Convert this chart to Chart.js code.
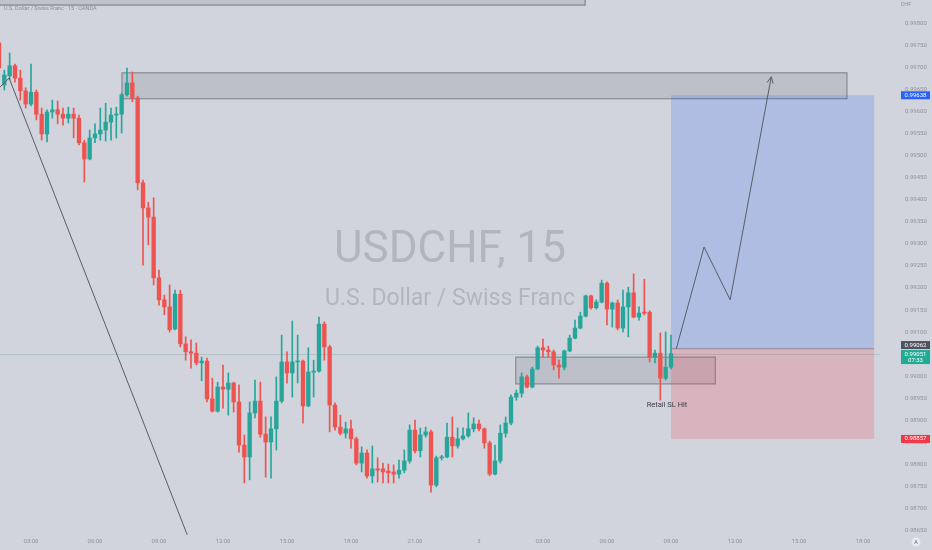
<!DOCTYPE html>
<html><head><meta charset="utf-8">
<script src="https://cdn.jsdelivr.net/npm/chart.js@4.4.0/dist/chart.umd.min.js"></script>
<style>html,body{margin:0;padding:0;background:#d1d4dc;}#wrap{width:932px;height:550px;position:relative;}</style>
</head><body><div id="wrap"><canvas id="c" width="932" height="550"></canvas></div>
<script>
// ---- DATA ----
const firstBar = -6; // bar index of first candle (03:00 day 2 = 0, 15-minute bars)
const opens = [0.99757,0.99661,0.99682,0.99705,0.99677,0.99648,
0.99618,0.99645,0.99595,0.99550,0.99600,0.99605,0.99595,0.99586,0.99595,0.99586,
0.99530,0.99493,0.99541,0.99550,0.99559,0.99577,0.99593,0.99595,0.99639,0.99666,
0.99632,0.99439,0.99382,0.99361,0.99223,0.99173,0.99157,0.99107,0.99186,0.99073,
0.99055,0.99052,0.99030,0.99034,0.98948,0.98920,0.98975,0.98970,0.98984,0.98941,
0.98843,0.98816,0.98916,0.98943,0.98868,0.98850,0.98880,0.98943,0.99032,0.99007,
0.99032,0.99034,0.98932,0.99009,0.99011,0.99118,0.99066,0.98934,0.98884,0.98870,
0.98880,0.98857,0.98802,0.98825,0.98773,0.98789,0.98789,0.98784,0.98782,0.98777,
0.98786,0.98807,0.98877,0.98830,0.98866,0.98873,0.98752,0.98814,0.98816,0.98861,
0.98841,0.98857,0.98864,0.98880,0.98891,0.98880,0.98848,0.98777,0.98807,0.98870,
0.98893,0.98952,0.98961,0.98998,0.98975,0.99016,0.99064,0.99059,0.99055,0.99025,
0.99020,0.99057,0.99086,0.99109,0.99136,0.99182,0.99155,0.99168,0.99211,0.99152,
0.99166,0.99109,0.99157,0.99189,0.99134,0.99145,0.99145,0.99043,0.99052,0.98995,
0.99020];
const highs = [0.99764,0.99695,0.99734,0.99709,0.99695,0.99655,
0.99709,0.99650,0.99609,0.99605,0.99627,0.99625,0.99609,0.99611,0.99609,0.99593,
0.99536,0.99559,0.99573,0.99609,0.99620,0.99609,0.99611,0.99643,0.99700,0.99691,
0.99636,0.99445,0.99395,0.99405,0.99241,0.99184,0.99207,0.99195,0.99195,0.99089,
0.99082,0.99075,0.99043,0.99041,0.98995,0.98986,0.99025,0.99007,0.98986,0.98980,
0.98866,0.98941,0.98991,0.98986,0.98907,0.98907,0.98998,0.99093,0.99055,0.99125,
0.99093,0.99036,0.99064,0.99036,0.99134,0.99123,0.99070,0.98939,0.98911,0.98895,
0.98900,0.98861,0.98839,0.98832,0.98841,0.98814,0.98802,0.98800,0.98798,0.98809,
0.98832,0.98889,0.98900,0.98882,0.98884,0.98877,0.98818,0.98820,0.98893,0.98907,
0.98882,0.98882,0.98916,0.98905,0.98900,0.98882,0.98852,0.98843,0.98889,0.98907,
0.98957,0.98968,0.99007,0.99002,0.99020,0.99068,0.99084,0.99068,0.99059,0.99036,
0.99059,0.99093,0.99127,0.99145,0.99184,0.99184,0.99173,0.99218,0.99214,0.99168,
0.99173,0.99195,0.99202,0.99232,0.99157,0.99220,0.99148,0.99059,0.99098,0.99100,
0.99093];
const lows = [0.99691,0.99650,0.99673,0.99668,0.99627,0.99609,
0.99614,0.99582,0.99536,0.99532,0.99586,0.99573,0.99570,0.99575,0.99541,0.99525,
0.99441,0.99491,0.99530,0.99536,0.99534,0.99536,0.99541,0.99552,0.99636,0.99623,
0.99423,0.99252,0.99298,0.99207,0.99161,0.99139,0.99100,0.99105,0.99066,0.99036,
0.99018,0.99025,0.98989,0.98941,0.98918,0.98918,0.98927,0.98911,0.98918,0.98827,
0.98757,0.98764,0.98905,0.98861,0.98770,0.98768,0.98832,0.98939,0.98984,0.98952,
0.98984,0.98893,0.98930,0.98952,0.99009,0.99036,0.98873,0.98877,0.98866,0.98859,
0.98836,0.98798,0.98782,0.98768,0.98757,0.98759,0.98757,0.98757,0.98757,0.98768,
0.98780,0.98802,0.98825,0.98816,0.98861,0.98736,0.98748,0.98809,0.98814,0.98816,
0.98836,0.98855,0.98861,0.98873,0.98875,0.98836,0.98773,0.98775,0.98802,0.98861,
0.98889,0.98945,0.98952,0.98973,0.98973,0.99014,0.99043,0.99043,0.99014,0.98995,
0.99014,0.99055,0.99084,0.99107,0.99134,0.99152,0.99152,0.99166,0.99116,0.99111,
0.99105,0.99100,0.99089,0.99132,0.99127,0.99139,0.99032,0.99030,0.98945,0.98991,
0.99016];
const closes = [0.99700,0.99684,0.99705,0.99677,0.99648,0.99618,
0.99645,0.99595,0.99550,0.99600,0.99605,0.99595,0.99586,0.99595,0.99586,0.99530,
0.99493,0.99541,0.99550,0.99559,0.99577,0.99593,0.99595,0.99639,0.99666,0.99632,
0.99439,0.99382,0.99361,0.99223,0.99173,0.99157,0.99105,0.99186,0.99073,0.99055,
0.99052,0.99030,0.99034,0.98948,0.98920,0.98975,0.98970,0.98984,0.98941,0.98843,
0.98816,0.98916,0.98943,0.98868,0.98850,0.98880,0.98943,0.99032,0.99007,0.99032,
0.99034,0.98932,0.99009,0.99011,0.99118,0.99066,0.98934,0.98884,0.98870,0.98880,
0.98857,0.98802,0.98825,0.98773,0.98789,0.98786,0.98782,0.98780,0.98777,0.98786,
0.98807,0.98877,0.98830,0.98866,0.98873,0.98752,0.98814,0.98816,0.98861,0.98841,
0.98857,0.98864,0.98880,0.98891,0.98880,0.98848,0.98777,0.98807,0.98870,0.98893,
0.98952,0.98961,0.98998,0.98975,0.99016,0.99064,0.99059,0.99055,0.99025,0.99020,
0.99057,0.99086,0.99109,0.99136,0.99182,0.99155,0.99168,0.99211,0.99152,0.99166,
0.99109,0.99157,0.99189,0.99134,0.99143,0.99143,0.99043,0.99052,0.98995,0.99020,
0.99051];
const timeTickIdx = [0,12,24,36,48,60,72,84,96,108,120,132,144,156];
const timeTickLabels = ['03:00','06:00','09:00','12:00','15:00','18:00','21:00','3','03:00','06:00','09:00','12:00','15:00','18:00'];
const priceTicks = [0.9865,0.9870,0.9875,0.9880,0.9885,0.9890,0.9895,0.9900,0.9905,0.9910,0.9915,0.9920,0.9925,0.9930,0.9935,0.9940,0.9945,0.9950,0.9955,0.9960,0.9965,0.9970,0.9975,0.9980];
// drawings (bar index, price)
const trendX = [-6.2, -4.1, 29.3];
const trendY = [0.99652, 0.99677, 0.98639];
const pathX = [121.0, 126.2, 131.1, 138.8];
const pathY = [0.99062, 0.99293, 0.99173, 0.99680];
const zoneX1 = [17.06, 90.9], zoneX2 = [153.0, 128.3];
const zoneTop = [0.99689, 0.99043], zoneBottom = [0.99630, 0.98982];
const topBoxX2 = 103.9, topBoxBottom = 0.99843;
const posX1 = 120.0, posX2 = 158.1;
const entryPrice = 0.99062, targetPrice = 0.99638, stopPrice = 0.98857, lastPrice = 0.99051;
const noteText = 'Retail SL Hit', noteX = 119.25, notePrice = 0.98934;
const countdown = '07:33';

// ---- BUILD ----
const idx = opens.map((_, i) => firstBar + i);
const UP = '#26a69a', DOWN = '#ef5350';
const colorOf = (i) => closes[i] >= opens[i] ? UP : DOWN;
const FONT = 'Roboto, "Noto Sans", sans-serif';

const drawPlugin = {
  id: 'tv',
  beforeDraw(chart) {
    const c = chart.ctx; c.save(); c.fillStyle = '#d1d4dc'; c.fillRect(0, 0, chart.width, chart.height); c.restore();
  },
  beforeDatasetsDraw(chart) {
    const c = chart.ctx, X = chart.scales.x, Y = chart.scales.y, a = chart.chartArea;
    c.save();
    c.beginPath(); c.rect(a.left, a.top, a.right - a.left, a.bottom - a.top); c.clip();
    c.fillStyle = 'rgba(150,153,163,0.52)';
    c.textAlign = 'center'; c.textBaseline = 'alphabetic';
    c.font = '44px ' + FONT;
    c.fillText('USDCHF, 15', 450, 262);
    c.font = '23px ' + FONT;
    c.fillText('U.S. Dollar / Swiss Franc', 450, 305);
    const yl = Math.round(Y.getPixelForValue(lastPrice)) + 0.5;
    c.strokeStyle = 'rgba(120,160,165,0.35)'; c.lineWidth = 1;
    c.beginPath(); c.moveTo(a.left, yl); c.lineTo(a.right, yl); c.stroke();
    const tb = Y.getPixelForValue(topBoxBottom);
    c.fillStyle = 'rgba(120,123,134,0.18)';
    c.fillRect(a.left - 2, a.top - 10, X.getPixelForValue(topBoxX2) + 2, tb - a.top + 10);
    c.strokeStyle = 'rgba(110,113,124,0.8)'; c.lineWidth = 1.2;
    c.strokeRect(a.left - 2, a.top - 10, X.getPixelForValue(topBoxX2) + 2, tb - a.top + 10);
    for (let k = 0; k < zoneX1.length; k++) {
      const x1 = X.getPixelForValue(zoneX1[k]), x2 = X.getPixelForValue(zoneX2[k]);
      const y1 = Y.getPixelForValue(zoneTop[k]), y2 = Y.getPixelForValue(zoneBottom[k]);
      c.fillStyle = 'rgba(120,123,134,0.22)';
      c.fillRect(x1, y1, x2 - x1, y2 - y1);
      c.strokeStyle = 'rgba(110,113,124,0.85)'; c.lineWidth = 1;
      c.strokeRect(x1, y1, x2 - x1, y2 - y1);
    }
    const px1 = X.getPixelForValue(posX1), px2 = X.getPixelForValue(posX2);
    const ye = Y.getPixelForValue(entryPrice), yt = Y.getPixelForValue(targetPrice), ys = Y.getPixelForValue(stopPrice);
    c.fillStyle = 'rgba(41,98,255,0.2)'; c.fillRect(px1, yt, px2 - px1, ye - yt);
    c.fillStyle = 'rgba(242,54,69,0.2)'; c.fillRect(px1, ye, px2 - px1, ys - ye);
    c.strokeStyle = 'rgba(140,120,130,0.8)'; c.lineWidth = 1;
    c.beginPath(); c.moveTo(px1, ye); c.lineTo(px2, ye); c.stroke();
    c.restore();
  },
  afterDatasetsDraw(chart) {
    const c = chart.ctx, X = chart.scales.x, Y = chart.scales.y;
    c.save();
    const n = pathX.length;
    const x2 = X.getPixelForValue(pathX[n - 1]), y2 = Y.getPixelForValue(pathY[n - 1]);
    const x1 = X.getPixelForValue(pathX[n - 2]), y1 = Y.getPixelForValue(pathY[n - 2]);
    const ang = Math.atan2(y2 - y1, x2 - x1);
    c.strokeStyle = '#5a5d67'; c.lineWidth = 1;
    c.beginPath();
    c.moveTo(x2 - 7 * Math.cos(ang - 0.45), y2 - 7 * Math.sin(ang - 0.45));
    c.lineTo(x2, y2);
    c.lineTo(x2 - 7 * Math.cos(ang + 0.45), y2 - 7 * Math.sin(ang + 0.45));
    c.stroke();
    c.fillStyle = '#3b3e47'; c.font = '7.5px ' + FONT; c.textAlign = 'center'; c.textBaseline = 'middle';
    c.fillText(noteText, X.getPixelForValue(noteX), Y.getPixelForValue(notePrice) + 0.5);
    c.fillStyle = 'rgba(110,113,124,0.75)'; c.font = '5.5px ' + FONT; c.textAlign = 'left';
    c.fillText('U.S. Dollar / Swiss Franc · 15 · OANDA', 4, 8.5);
    c.restore();
  },
  afterDraw(chart) {
    const c = chart.ctx, Y = chart.scales.y;
    const bx = Y.left + 21, bw = 29, cx = bx + bw / 2;
    c.save();
    c.font = '6px ' + FONT; c.textAlign = 'center'; c.textBaseline = 'middle';
    const box = (y, h, bg) => { c.fillStyle = bg; c.fillRect(bx, y - h / 2, bw, h); };
    let y = Y.getPixelForValue(targetPrice);
    box(y, 8, '#2962ff'); c.fillStyle = '#fff'; c.fillText(targetPrice.toFixed(5), cx, y);
    y = Y.getPixelForValue(stopPrice);
    box(y, 8, '#f23645'); c.fillStyle = '#fff'; c.fillText(stopPrice.toFixed(5), cx, y);
    const yl = Y.getPixelForValue(lastPrice);
    c.fillStyle = '#22ab94'; c.fillRect(bx, yl - 3.5, bw, 14);
    c.fillStyle = '#fff'; c.fillText(lastPrice.toFixed(5), cx, yl + 0.5); c.fillText(countdown, cx, yl + 7);
    const ye = yl - 8.5;
    box(ye, 8, '#50535e'); c.fillStyle = '#fff'; c.fillText(entryPrice.toFixed(5), cx, ye);
    c.fillStyle = 'rgba(120,123,134,0.8)'; c.font = '5.5px ' + FONT;
    c.fillText('CHF', 906, 5);
    c.fillStyle = 'rgba(235,237,242,0.8)';
    c.beginPath(); c.arc(916, 542, 4.5, 0, Math.PI * 2); c.fill();
    c.fillStyle = '#6a6d78'; c.font = '5.5px ' + FONT; c.fillText('A', 916, 542.5);
    c.restore();
  }
};

new Chart(document.getElementById('c'), {
  type: 'bar',
  data: {
    datasets: [
      { type: 'line', data: pathX.map((x, i) => ({ x, y: pathY[i] })), borderColor: '#5a5d67', borderWidth: 1, pointRadius: 0, tension: 0, clip: false },
      { type: 'line', data: trendX.map((x, i) => ({ x, y: trendY[i] })), borderColor: '#5a5d67', borderWidth: 1, pointRadius: 0, tension: 0 },
      { label: 'body', data: idx.map((x, i) => ({ x, y: [opens[i], closes[i]] })),
        backgroundColor: (ctx) => ctx.dataIndex === undefined ? UP : colorOf(ctx.dataIndex),
        barThickness: 3.7, minBarLength: 1, grouped: false, borderWidth: 0 },
      { label: 'wick', data: idx.map((x, i) => ({ x, y: [lows[i], highs[i]] })),
        backgroundColor: (ctx) => ctx.dataIndex === undefined ? UP : colorOf(ctx.dataIndex),
        barThickness: 1, grouped: false, borderWidth: 0 }
    ]
  },
  options: {
    responsive: false, animation: false, events: [],
    layout: { padding: 0, autoPadding: false },
    plugins: { legend: { display: false }, tooltip: { enabled: false } },
    scales: {
      x: {
        type: 'linear', min: -5.81, max: 159.19, offset: false,
        grid: { display: false, drawTicks: false, tickLength: 0 }, border: { display: false },
        afterBuildTicks: (s) => { s.ticks = timeTickIdx.map(v => ({ value: v })); },
        afterFit: (s) => { s.height = 14; s.paddingLeft = 0; s.paddingRight = 0; s.paddingTop = 0; s.paddingBottom = 0; },
        ticks: { autoSkip: false, maxRotation: 0, padding: 2, color: 'rgba(120,123,134,0.75)', font: { size: 6, family: FONT },
          callback: (v, i) => timeTickLabels[i] }
      },
      y: {
        type: 'linear', position: 'right', min: 0.986364, max: 0.998545,
        grid: { display: false, drawTicks: false, tickLength: 0 }, border: { display: false },
        afterBuildTicks: (s) => { s.ticks = priceTicks.map(v => ({ value: v })); },
        afterFit: (s) => { s.width = 52; s.paddingTop = 0; s.paddingBottom = 0; s.paddingLeft = 0; s.paddingRight = 0; },
        ticks: { autoSkip: false, padding: 25, crossAlign: 'near', color: 'rgba(120,123,134,0.75)', font: { size: 6, family: FONT },
          callback: (v) => Number(v).toFixed(5) }
      }
    }
  },
  plugins: [drawPlugin]
});
</script>
</body></html>
